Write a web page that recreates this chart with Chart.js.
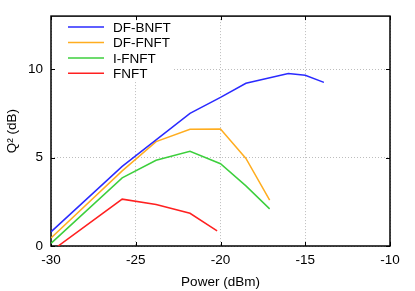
<!DOCTYPE html>
<html>
<head>
<meta charset="utf-8">
<script src="https://cdn.jsdelivr.net/npm/chart.js@4/dist/chart.umd.min.js"></script>
<style>
  html, body { margin: 0; padding: 0; background: #fff; }
  #wrap { width: 415px; height: 291px; }
</style>
</head>
<body>
<div id="wrap"><canvas id="q2Chart" width="415" height="291"></canvas></div>
<script>
// values
const powerBlue = [-30, -25.8, -23.8, -21.8, -20, -18.5, -16, -15, -13.9];
const dfBnft = [0.8, 4.5, 6.0, 7.5, 8.4, 9.2, 9.75, 9.65, 9.25];

const powerMid = [-30, -25.8, -23.8, -21.8, -20, -18.5, -17.1];
const dfFnft = [0.45, 4.25, 5.9, 6.6, 6.62, 4.95, 2.6];
const iFnft = [0.15, 3.85, 4.85, 5.35, 4.65, 3.4, 2.1];

const powerRed = [-30, -25.8, -23.8, -21.8, -20.2];
const fnft = [-0.3, 2.65, 2.35, 1.85, 0.85];

const xTicks = [-30, -25, -20, -15, -10];
const yTicks = [0, 5, 10];

const FONT = "'Liberation Sans', Arial, sans-serif";

function pts(xs, ys) {
  return xs.map((x, i) => ({ x: x, y: ys[i] }));
}

function series(label, xs, ys, color) {
  return {
    label: label,
    data: pts(xs, ys),
    borderColor: color,
    backgroundColor: color,
    borderWidth: 1.5,
    pointRadius: 0,
    showLine: true,
    tension: 0,
  };
}

// frame, inward ticks on all four sides, and the opaque key box
const gnuplotLook = {
  id: "gnuplotLook",
  beforeDatasetsDraw(chart) {
    const { ctx, chartArea: a, scales } = chart;
    ctx.save();
    // key box covers the grid
    ctx.fillStyle = "#fff";
    ctx.fillRect(a.left + 1, a.top + 1, 121, 63);

    ctx.strokeStyle = "#000";
    ctx.lineWidth = 1;
    const tl = 4;
    ctx.beginPath();
    xTicks.forEach((v) => {
      const px = Math.round(scales.x.getPixelForValue(v)) + 0.5;
      ctx.moveTo(px, a.bottom);
      ctx.lineTo(px, a.bottom - tl);
      ctx.moveTo(px, a.top);
      ctx.lineTo(px, a.top + tl);
    });
    yTicks.forEach((v) => {
      const py = Math.round(scales.y.getPixelForValue(v)) + 0.5;
      ctx.moveTo(a.left, py);
      ctx.lineTo(a.left + tl, py);
      ctx.moveTo(a.right, py);
      ctx.lineTo(a.right - tl, py);
    });
    ctx.stroke();

    ctx.lineWidth = 1.5;
    ctx.strokeRect(a.left, a.top, a.right - a.left, a.bottom - a.top);

    // key
    ctx.font = "13.5px " + FONT;
    ctx.textBaseline = "middle";
    ctx.textAlign = "left";
    chart.data.datasets.forEach((ds, i) => {
      const y = a.top + 11 + i * 15.4;
      ctx.strokeStyle = ds.borderColor;
      ctx.lineWidth = 1.5;
      ctx.beginPath();
      ctx.moveTo(a.left + 17, y);
      ctx.lineTo(a.left + 53, y);
      ctx.stroke();
      ctx.fillStyle = "#000";
      ctx.fillText(ds.label, a.left + 62, y + 1);
    });
    ctx.restore();
  },
};

new Chart(document.getElementById("q2Chart"), {
  type: "scatter",
  data: {
    datasets: [
      series("DF-BNFT", powerBlue, dfBnft, "#2a2aff"),
      series("DF-FNFT", powerMid, dfFnft, "#ffad1f"),
      series("I-FNFT", powerMid, iFnft, "#3ccf3c"),
      series("FNFT", powerRed, fnft, "#ff2020"),
    ],
  },
  options: {
    responsive: false,
    animation: false,
    layout: { padding: { top: 16, right: 25, left: 0, bottom: 0 } },
    plugins: {
      legend: { display: false },
      tooltip: { enabled: false },
    },
    scales: {
      x: {
        type: "linear",
        min: -30,
        max: -10,
        afterFit: (s) => { s.height = 45; },
        afterBuildTicks: (s) => { s.ticks = xTicks.map((v) => ({ value: v })); },
        ticks: {
          color: "#000",
          padding: 6,
          font: { family: FONT, size: 13.5 },
          maxRotation: 0,
        },
        grid: { color: "#bdbdbd", drawTicks: false, lineWidth: 1 },
        border: { display: false, dash: [1, 2] },
        title: {
          display: true,
          text: "Power (dBm)",
          color: "#000",
          font: { family: FONT, size: 13.5 },
          padding: { top: 0, bottom: 1 },
        },
      },
      y: {
        type: "linear",
        min: 0,
        max: 13,
        afterFit: (s) => { s.width = 51; },
        afterBuildTicks: (s) => { s.ticks = yTicks.map((v) => ({ value: v })); },
        ticks: {
          color: "#000",
          padding: 8,
          font: { family: FONT, size: 13.5 },
        },
        grid: { color: "#bdbdbd", drawTicks: false, lineWidth: 1 },
        border: { display: false, dash: [1, 2] },
        title: {
          display: true,
          text: "Q² (dB)",
          color: "#000",
          font: { family: FONT, size: 13.5 },
          padding: { top: 4, bottom: 0 },
        },
      },
    },
  },
  plugins: [gnuplotLook],
});
</script>
</body>
</html>
